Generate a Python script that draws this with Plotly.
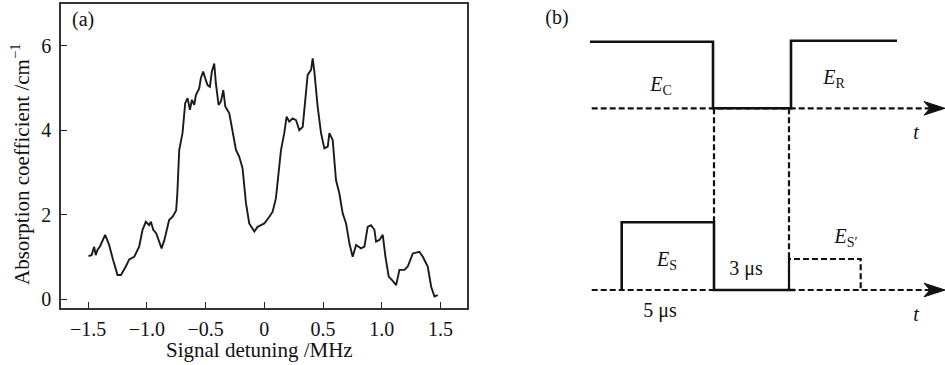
import plotly.graph_objects as go

# ---------------- Panel (a) data ----------------
detuning = [-1.496, -1.47, -1.448, -1.435, -1.42, -1.40, -1.354, -1.32, -1.29, -1.249, -1.22,
            -1.178, -1.15, -1.107, -1.065, -1.036, -1.008, -0.98, -0.965, -0.945, -0.92,
            -0.874, -0.85, -0.81, -0.78, -0.75, -0.74, -0.724, -0.696, -0.673, -0.653,
            -0.633, -0.616, -0.596, -0.582, -0.554, -0.54, -0.52, -0.503, -0.483, -0.463,
            -0.446, -0.426, -0.412, -0.389, -0.369, -0.349, -0.332, -0.298, -0.27, -0.241,
            -0.213, -0.185, -0.156, -0.128, -0.085, -0.057, -0.028, 0.0, 0.043, 0.071,
            0.099, 0.142, 0.17, 0.19, 0.213, 0.241, 0.27, 0.298, 0.327, 0.349, 0.369,
            0.398, 0.412, 0.426, 0.454, 0.483, 0.511, 0.54, 0.554, 0.582, 0.61, 0.639,
            0.667, 0.696, 0.724, 0.752, 0.781, 0.823, 0.852, 0.88, 0.908, 0.937, 0.951,
            0.98, 1.008, 1.031, 1.059, 1.087, 1.122, 1.15, 1.193, 1.221, 1.264, 1.32,
            1.349, 1.391, 1.42, 1.448, 1.476]
absorption = [1.02, 1.04, 1.24, 1.04, 1.16, 1.24, 1.52, 1.28, 0.96, 0.57, 0.57,
              0.77, 0.94, 1.0, 1.24, 1.64, 1.83, 1.75, 1.83, 1.64, 1.56,
              1.2, 1.4, 1.87, 1.95, 2.1, 2.5, 3.53, 3.93, 4.64, 4.76,
              4.48, 4.72, 4.6, 4.83, 4.99, 5.23, 5.39, 5.23, 5.07, 5.03,
              5.39, 5.58, 5.11, 4.6, 4.68, 4.95, 4.56, 4.4, 4.0, 3.53,
              3.37, 3.1, 2.27, 1.79, 1.6, 1.71, 1.75, 1.79, 1.95, 2.07,
              2.39, 3.53, 3.93, 4.32, 4.2, 4.28, 4.24, 4.0, 4.08, 4.64, 5.31,
              5.43, 5.7, 5.39, 4.56, 3.93, 3.57, 3.61, 3.93, 3.77, 2.82, 2.5,
              2.03, 1.79, 1.32, 1.0, 1.28, 1.2, 1.24, 1.71, 1.75, 1.64, 1.36,
              1.4, 1.52, 1.0, 0.53, 0.45, 0.33, 0.69, 0.69, 0.77, 1.08, 1.12,
              1.0, 0.77, 0.29, 0.06, 0.09]
x_tickvals = [-1.5, -1.0, -0.5, 0, 0.5, 1.0, 1.5]
x_ticktext = ["\u22121.5", "\u22121.0", "\u22120.5", "0", "0.5", "1.0", "1.5"]
y_tickvals = [0, 2, 4, 6]
y_ticktext = ["0", "2", "4", "6"]
x_title = "Signal detuning /MHz"
y_title = "Absorption coefficient /cm<sup>\u22121</sup>"

# ---------------- Panel (b) schematic data (diagram units) ----------------
coupling_t = [590, 713, 713, 791, 791, 897]
coupling_level = [41.7, 41.7, 108.3, 108.3, 40.7, 40.7]
signal_t = [621.7, 621.7, 714, 714, 795]
signal_level = [290, 222.3, 222.3, 290, 290]
retrieved_t = [789, 789, 860.7, 860.7]
retrieved_level = [290, 259, 259, 290]
axis_upper_t = [591.7, 932]
axis_upper_level = [108.3, 108.3]
axis_lower_t = [591.7, 932]
axis_lower_level = [290, 290]
guide1_t = [714, 714]
guide1_level = [108.3, 221.7]
guide2_t = [789, 789]
guide2_level = [108.3, 290]
arrow_t = [945, 924, 930, 924, 945]
arrow_upper = [108.3, 101.5, 108.3, 115.1, 108.3]
arrow_lower = [290, 283.2, 290, 296.8, 290]

label_text = ["<i>E</i><sub>C</sub>", "<i>E</i><sub>R</sub>", "<i>t</i>",
              "<i>E</i><sub>S</sub>", "3 \u03bcs", "5 \u03bcs",
              "<i>E</i><sub>S\u2032</sub>", "<i>t</i>", "(b)"]
label_t = [661, 834, 916, 667, 746, 660, 846, 916, 557]
label_level = [86, 79, 134, 261, 270, 312, 238, 316, 19]

FONT = "Liberation Serif"
INK = "#111111"
W, H = 945, 365

fig = go.Figure()

fig.add_trace(go.Scatter(x=detuning, y=absorption, mode="lines",
                         line=dict(color="#1a1a1a", width=1.9),
                         xaxis="x", yaxis="y", showlegend=False))

solid = dict(color=INK, width=2.6)
dashed = dict(color=INK, width=2.2, dash="6px,3px")

for t, lv, ln in [(coupling_t, coupling_level, solid),
                  (signal_t, signal_level, solid),
                  (retrieved_t, retrieved_level, dashed),
                  (axis_upper_t, axis_upper_level, dashed),
                  (axis_lower_t, axis_lower_level, dashed),
                  (guide1_t, guide1_level, dashed),
                  (guide2_t, guide2_level, dashed)]:
    fig.add_trace(go.Scatter(x=t, y=lv, mode="lines", line=ln,
                             xaxis="x2", yaxis="y2", showlegend=False))

for lv in (arrow_upper, arrow_lower):
    fig.add_trace(go.Scatter(x=arrow_t, y=lv, mode="lines", fill="toself",
                             fillcolor=INK, line=dict(color=INK, width=1),
                             xaxis="x2", yaxis="y2", showlegend=False))

fig.add_trace(go.Scatter(x=label_t, y=label_level, mode="text", text=label_text,
                         textfont=dict(family=FONT, size=20, color=INK),
                         xaxis="x2", yaxis="y2", showlegend=False,
                         cliponaxis=False))

fig.update_layout(
    width=W, height=H,
    margin=dict(l=0, r=0, t=0, b=0),
    paper_bgcolor="white", plot_bgcolor="white",
    font=dict(family=FONT, size=19, color=INK),
    xaxis=dict(domain=[61 / W, 467 / W], range=[-1.73, 1.725],
               tickvals=x_tickvals, ticktext=x_ticktext,
               ticks="inside", ticklen=6, tickwidth=1.2, tickcolor="#222",
               showline=True, linecolor="#333", linewidth=1.5, mirror=True,
               showgrid=False, zeroline=False, automargin=False,
               ticklabelstandoff=2,
               tickfont=dict(family=FONT, size=20, color=INK)),
    yaxis=dict(domain=[57 / H, 361 / H], range=[-0.213, 6.99],
               tickvals=y_tickvals, ticktext=y_ticktext,
               ticks="inside", ticklen=6, tickwidth=1.2, tickcolor="#222",
               showline=True, linecolor="#333", linewidth=1.5, mirror=True,
               showgrid=False, zeroline=False, automargin=False,
               ticklabelstandoff=4,
               tickfont=dict(family=FONT, size=20, color=INK)),
    xaxis2=dict(domain=[520 / W, 1.0], range=[520, 945], visible=False,
                fixedrange=True),
    yaxis2=dict(domain=[0, 1], range=[365, 0], visible=False, fixedrange=True),
    annotations=[
        dict(text="(a)", x=83 / W, y=1 - 19 / H, xref="paper", yref="paper",
             xanchor="center", yanchor="middle", showarrow=False,
             font=dict(family=FONT, size=20, color=INK)),
        dict(text=x_title, x=259 / W, y=1 - 350 / H, xref="paper", yref="paper",
             xanchor="center", yanchor="middle", showarrow=False,
             font=dict(family=FONT, size=21, color=INK)),
        dict(text=y_title, x=21 / W, y=1 - 164 / H, xref="paper", yref="paper",
             xanchor="center", yanchor="middle", showarrow=False, textangle=-90,
             font=dict(family=FONT, size=21, color=INK)),
    ],
)

fig.write_html("out.html", config={"displayModeBar": False},
               post_script="document.body.style.margin='0';document.body.style.overflow='hidden';")
